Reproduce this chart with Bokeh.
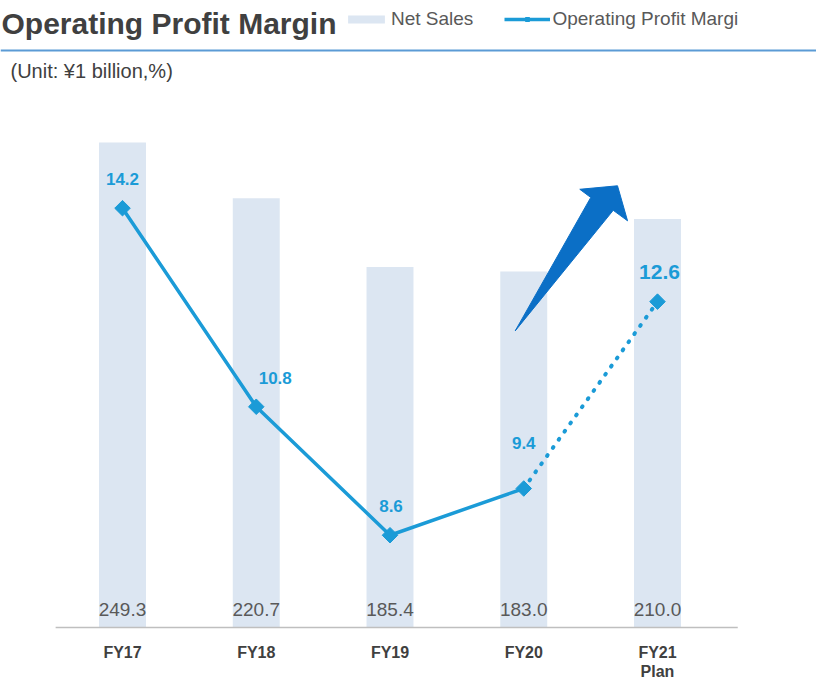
from bokeh.plotting import figure
from bokeh.models import Range1d, Legend, LegendItem, Label, Span, ColumnDataSource
from bokeh.core.properties import value
from bokeh.embed import file_html
from bokeh.resources import INLINE
import numpy as np

# ---------------- data ----------------
categories = ["FY17", "FY18", "FY19", "FY20", "FY21"]
tick_labels = ["FY17", "FY18", "FY19", "FY20", "FY21\nPlan"]
net_sales = [249.3, 220.7, 185.4, 183.0, 210.0]
op_margin = [14.2, 10.8, 8.6, 9.4, 12.6]
net_sales_labels = ["249.3", "220.7", "185.4", "183.0", "210.0"]
margin_labels = ["14.2", "10.8", "8.6", "9.4", "12.6"]

# decorative up-arrow outline (x in category index units, y in net-sales units)
arrow_x = [2.936, 3.501, 3.419, 3.701, 3.776, 3.669]
arrow_y = [152.5, 221.1, 225.3, 227.1, 209.1, 214.5]

# ---------------- layout / style ----------------
FONT = "Liberation Sans"
BAR_COLOR = "#dce6f2"
LINE_COLOR = "#1b9bd7"
ARROW_COLOR = "#0b6fc6"
RULE_COLOR = "#5b9bd5"

W, H = 816, 680
BASE_PX = 627          # pixel row (from top) of the zero baseline
PX_PER_CAT = 133.75
FIRST_CENTER = 122
PX_PER_SALES = 1.945
PX_PER_PCT = 58.4
PCT_AT_BASE = 7.02

def fx(px):  # figure pixel x -> data x
    return (px - FIRST_CENTER) / PX_PER_CAT

def fy(py):  # figure pixel y (from top) -> net-sales data y
    return (BASE_PX - py) / PX_PER_SALES

def fp(py):  # figure pixel y (from top) -> margin data y
    return PCT_AT_BASE + (BASE_PX - py) / PX_PER_PCT

x = list(range(len(categories)))

p = figure(width=W, height=H, output_backend="svg", toolbar_location=None,
           x_range=Range1d(fx(0), fx(W)), y_range=Range1d(fy(H), fy(0)),
           x_axis_location=None, y_axis_location=None,
           min_border_left=0, min_border_right=0, min_border_top=0, min_border_bottom=0,
           outline_line_color=None, background_fill_color="white", border_fill_color="white")
p.extra_y_ranges = {"pct": Range1d(fp(H), fp(0))}
p.xgrid.visible = False
p.ygrid.visible = False

# bars
bars = p.vbar(x=x, top=net_sales, width=0.351, fill_color=BAR_COLOR, line_color=None)

# baseline (category axis line)
p.segment(x0=[-0.5], y0=[0], x1=[len(categories) - 0.4], y1=[0],
          line_color="#bfbfbf", line_width=1.5)

# category labels below the baseline
p.text(x=x, y=[0] * len(x), text=tick_labels, y_offset=16, text_align="center",
       text_baseline="top", text_font=value(FONT), text_font_style="bold",
       text_font_size="16px", text_color="#404040", text_line_height=1.12)

# net sales value labels
p.text(x=x, y=[0] * len(x), text=net_sales_labels, y_offset=-18,
       text_align="center", text_baseline="middle", text_font=value(FONT),
       text_font_size="19px", text_color="#595959")

# arrow
p.patch(x=arrow_x, y=arrow_y, fill_color=ARROW_COLOR, line_color=ARROW_COLOR, line_width=1)

# margin line: actual (solid) and plan (dotted)
solid = p.line(x=x[:4], y=op_margin[:4], y_range_name="pct", line_color=LINE_COLOR,
               line_width=3.5, line_join="round")
p.line(x=x[3:], y=op_margin[3:], y_range_name="pct", line_color=LINE_COLOR,
       line_width=4, line_dash="1 9", line_cap="round")
pts = p.scatter(x=x, y=op_margin, y_range_name="pct", marker="square", angle=np.pi / 4,
                size=11, fill_color=LINE_COLOR, line_color=LINE_COLOR)

# margin labels
lbl_dx = [0, 19, 1, 0, 2]
lbl_dy = [-29, -29, -29, -46, -30]
lbl_size = ["17px", "17px", "17px", "17px", "21px"]
src = ColumnDataSource(dict(x=x, y=op_margin, t=margin_labels, dx=lbl_dx, dy=lbl_dy, s=lbl_size))
p.text(x="x", y="y", text="t", x_offset="dx", y_offset="dy", text_font_size="s",
       source=src, y_range_name="pct", text_align="center", text_baseline="middle",
       text_font=value(FONT), text_font_style="bold", text_color=LINE_COLOR)

# header rule
p.add_layout(Span(location=fy(50), dimension="width", line_color=RULE_COLOR, line_width=2))

# title & unit
p.add_layout(Label(x=fx(1), y=fy(23), text="Operating Profit Margin", text_align="left",
                   text_baseline="alphabetic", text_font=FONT, text_font_style="bold",
                   text_font_size="30px", text_color="#404040"))
p.add_layout(Label(x=fx(10), y=fy(70), text="(Unit: \u00a51 billion,%)", text_align="left",
                   text_baseline="middle", text_font=FONT, text_font_size="20px",
                   text_color="#404040"))

legend = Legend(items=[LegendItem(label="Net Sales", renderers=[bars]),
                       LegendItem(label="Operating Profit Margi", renderers=[solid, pts])],
                location=(343, H - 30), orientation="horizontal", padding=0, margin=0,
                spacing=31, label_standoff=2, glyph_width=46, glyph_height=10,
                border_line_color=None, background_fill_alpha=0,
                label_text_font=FONT, label_text_font_size="19px", label_text_color="#595959")
p.add_layout(legend)

open("out.html", "w").write(file_html(p, INLINE))
